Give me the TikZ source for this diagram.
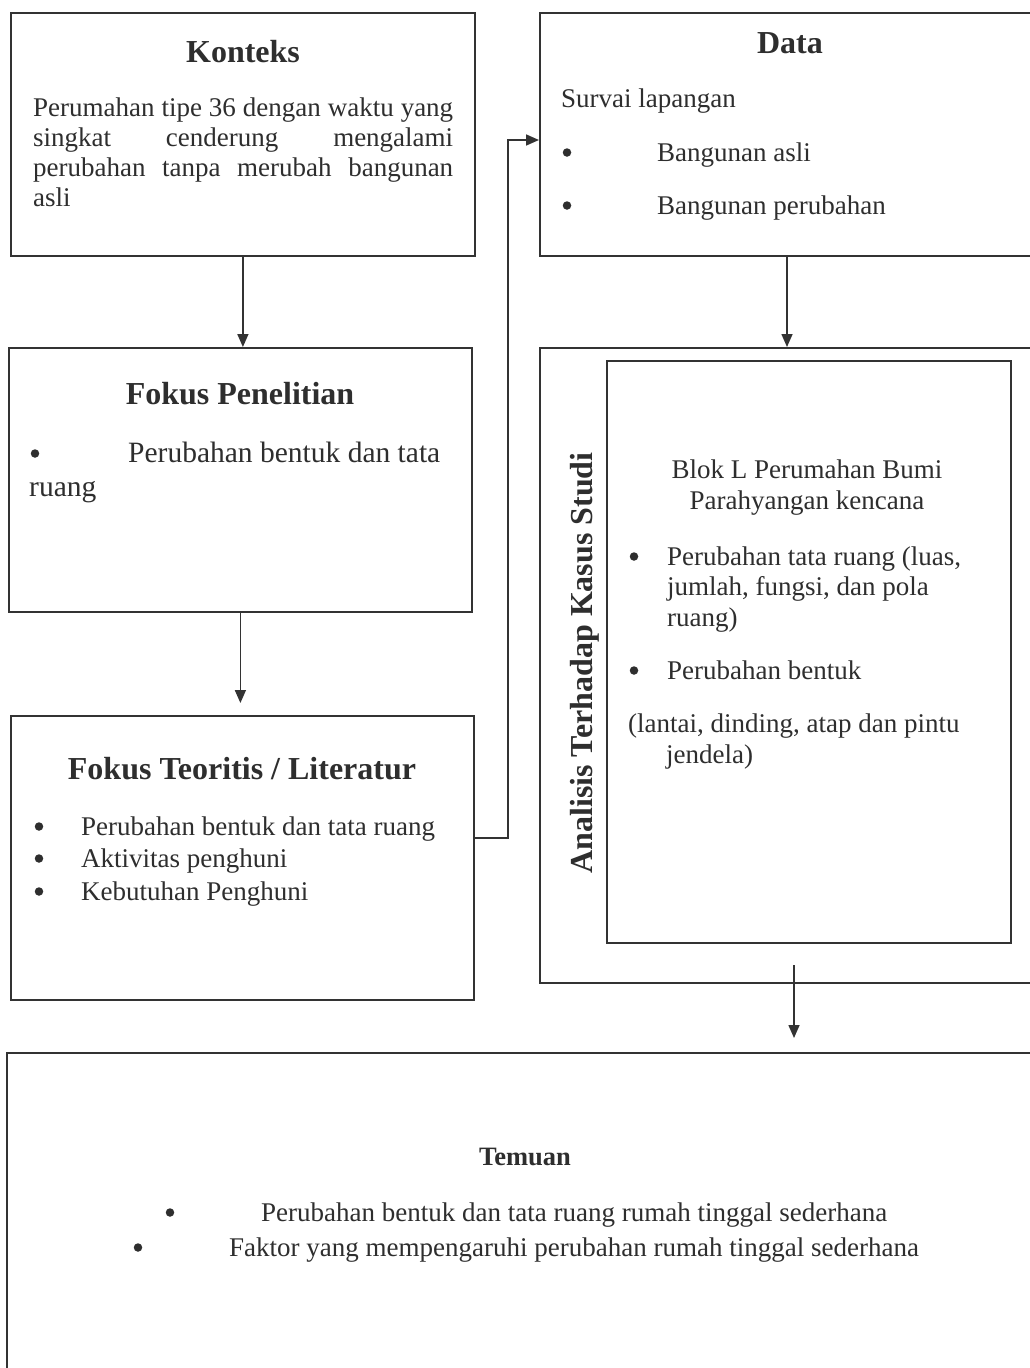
\documentclass[tikz,border=0pt]{standalone}
\usepackage{fontspec}
\setmainfont{Liberation Serif}
\usetikzlibrary{arrows.meta}
\definecolor{lc}{HTML}{333333}
\definecolor{tc}{HTML}{2E2E2E}
\newcommand\bodyfs{\fontsize{27pt}{30pt}\selectfont}
\newcommand\bigfs{\fontsize{29.5pt}{33pt}\selectfont}
\newcommand\headfs{\fontsize{32pt}{36pt}\selectfont\bfseries}
\newcommand\temfs{\fontsize{26.5pt}{30pt}\selectfont\bfseries}
\tikzset{
  box/.style={draw=lc, line width=1.8pt, rectangle, inner sep=0pt, anchor=north west},
  txt/.style={anchor=base west, inner sep=0pt, text=tc, font=\bodyfs},
  ctxt/.style={anchor=base, inner sep=0pt, text=tc, font=\bodyfs},
  hd/.style={anchor=base, inner sep=0pt, text=tc, font=\headfs},
  bul/.style={circle, fill=tc, draw=none, inner sep=0pt, minimum size=8.5pt, yshift=8.5pt},
  arr/.style={draw=lc, line width=1.6pt, -{Triangle[length=13pt,width=11pt]}}
}
\begin{document}
\begin{tikzpicture}[x=1pt,y=-1pt]
\useasboundingbox (0,0) rectangle (1030,1368);
\fill[white] (0,0) rectangle (1030,1368);
\clip (0,0) rectangle (1030,1368);

% boxes
\node[box, minimum width=464pt, minimum height=243pt] (konteks) at (10,12) {};
\node[box, minimum width=520pt, minimum height=243pt] (data) at (539,12) {};
\node[box, minimum width=463pt, minimum height=264pt] (penelitian) at (8,347) {};
\node[box, minimum width=463pt, minimum height=284pt] (teoritis) at (10,715) {};
\node[box, minimum width=520pt, minimum height=635pt] (analisis) at (539,347) {};
\node[box, minimum width=404pt, minimum height=582pt] (inner) at (606,360) {};
\node[box, minimum width=1050pt, minimum height=340pt] (temuan) at (6,1052) {};

% Konteks
\node[hd] (kh) at (243,62) {Konteks};
\node[txt] (k1) at (33,116) {\makebox[420pt][s]{Perumahan tipe 36 dengan waktu yang}};
\node[txt] (k2) at (33,146) {\makebox[420pt][s]{singkat cenderung mengalami}};
\node[txt] (k3) at (33,176) {\makebox[420pt][s]{perubahan tanpa merubah bangunan}};
\node[txt] (k4) at (33,206) {asli};

% Data
\node[hd] (dh) at (790,53) {Data};
\node[txt] (d1) at (561,107) {Survai lapangan};
\node[bul] (db1) at (567,161) {};
\node[txt] (d2) at (657,161) {Bangunan asli};
\node[bul] (db2) at (567,214) {};
\node[txt] (d3) at (657,214) {Bangunan perubahan};

% Fokus Penelitian
\node[hd] (ph) at (240,404) {Fokus Penelitian};
\node[bul] (pb1) at (35,462) {};
\node[txt, font=\bigfs] (p1) at (128,462) {Perubahan bentuk dan tata};
\node[txt, font=\bigfs] (p2) at (29,496) {ruang};

% Fokus Teoritis
\node[hd] (th) at (242,779) {Fokus Teoritis / Literatur};
\node[bul] (tb1) at (39,835) {};
\node[txt] (t1) at (81,835) {Perubahan bentuk dan tata ruang};
\node[bul] (tb2) at (39,867) {};
\node[txt] (t2) at (81,867) {Aktivitas penghuni};
\node[bul] (tb3) at (39,900) {};
\node[txt] (t3) at (81,900) {Kebutuhan Penghuni};

% Analisis
\node[hd, rotate=90] (ah) at (592,663) {Analisis Terhadap Kasus Studi};
\node[ctxt] (a1) at (807,478) {Blok L Perumahan Bumi};
\node[ctxt] (a2) at (807,509) {Parahyangan kencana};
\node[bul] (ab1) at (634,565) {};
\node[txt] (a3) at (667,565) {Perubahan tata ruang (luas,};
\node[txt] (a4) at (667,595) {jumlah, fungsi, dan pola};
\node[txt] (a5) at (667,626) {ruang)};
\node[bul] (ab2) at (634,679) {};
\node[txt] (a6) at (667,679) {Perubahan bentuk};
\node[txt] (a7) at (628,732) {(lantai, dinding, atap dan pintu};
\node[txt] (a8) at (666,763) {jendela)};

% Temuan
\node[anchor=base, inner sep=0pt, text=tc, font=\temfs] (eh) at (525,1165) {Temuan};
\node[bul] (eb1) at (170,1221) {};
\node[txt] (e1) at (261,1221) {Perubahan bentuk dan tata ruang rumah tinggal sederhana};
\node[bul] (eb2) at (138,1256) {};
\node[txt] (e2) at (229,1256) {Faktor yang mempengaruhi perubahan rumah tinggal sederhana};

% connectors
\draw[arr] (konteks.south) -- (konteks.south |- penelitian.north);
\draw[arr, shorten >=12pt] (penelitian.south) -- (penelitian.south |- teoritis.north);
\coordinate (dx) at (787,0);
\draw[arr] (data.south -| dx) -- (analisis.north -| dx);
\coordinate (bendlow) at (508,838);
\coordinate (bendtop) at (508,140);
\draw[arr] (bendlow -| teoritis.east) -- (bendlow) -- (bendtop) -- (bendtop -| data.west);
\coordinate (as) at (794,965);
\draw[arr, shorten >=14pt] (as) -- (as |- temuan.north);
\end{tikzpicture}
\end{document}
